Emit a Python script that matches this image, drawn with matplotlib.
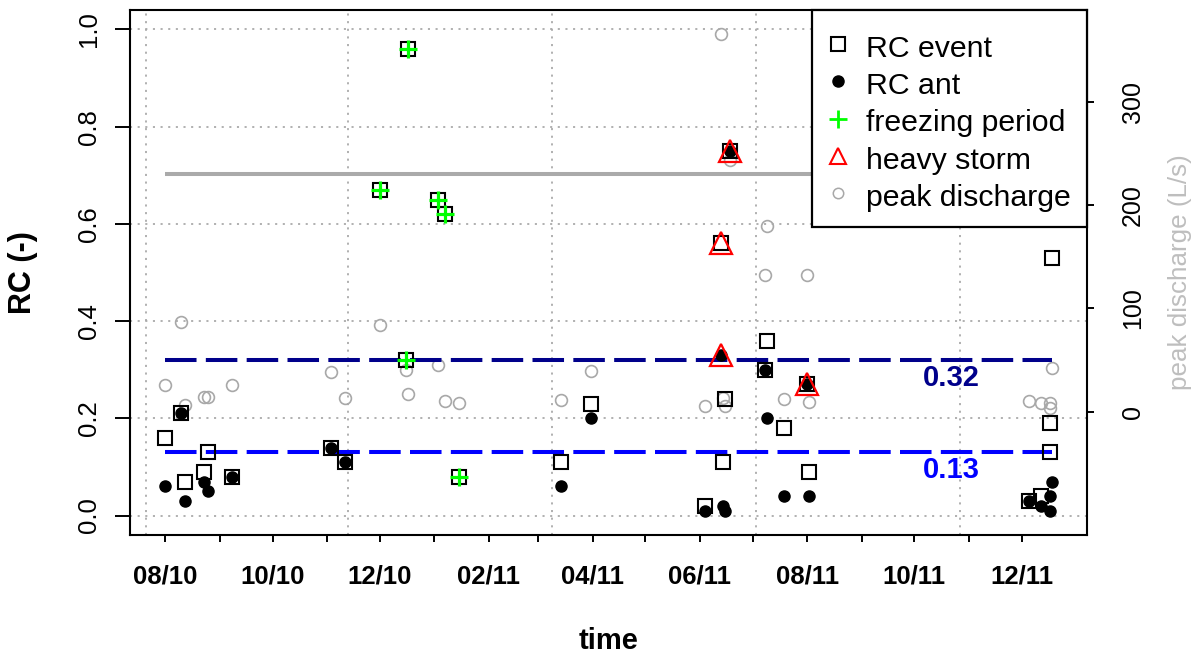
import matplotlib
matplotlib.use('Agg')
import matplotlib.pyplot as plt
from matplotlib.lines import Line2D
from matplotlib.patches import Rectangle
from datetime import datetime

plt.rcParams['font.family'] = ['Liberation Sans', 'DejaVu Sans']
plt.rcParams['lines.scale_dashes'] = False

def d(s):
    return datetime.strptime(s, '%Y-%m-%d')

# ---------------- data ----------------
event_dates = ['2010-08-01', '2010-08-10', '2010-08-12', '2010-08-23', '2010-08-25', '2010-09-08',
               '2010-11-03', '2010-11-11', '2010-12-01', '2010-12-16', '2010-12-17', '2011-01-03',
               '2011-01-07', '2011-01-15', '2011-03-14', '2011-03-31', '2011-06-04', '2011-06-13',
               '2011-06-14', '2011-06-15', '2011-06-18', '2011-07-08', '2011-07-09', '2011-07-19',
               '2011-08-01', '2011-08-02', '2011-12-05', '2011-12-12', '2011-12-17', '2011-12-17',
               '2011-12-18']
rc_event = [0.16, 0.21, 0.07, 0.09, 0.13, 0.08,
            0.14, 0.11, 0.67, 0.32, 0.96, 0.65,
            0.62, 0.08, 0.11, 0.23, 0.02, 0.56,
            0.11, 0.24, 0.75, 0.30, 0.36, 0.18,
            0.27, 0.09, 0.03, 0.04, 0.19, 0.13,
            0.53]

ant_dates = ['2010-08-01', '2010-08-10', '2010-08-12', '2010-08-23', '2010-08-25', '2010-09-08',
             '2010-11-03', '2010-11-11', '2011-03-14', '2011-03-31', '2011-06-04', '2011-06-13',
             '2011-06-14', '2011-06-15', '2011-06-18', '2011-07-08', '2011-07-09', '2011-07-19',
             '2011-08-01', '2011-08-02', '2011-12-05', '2011-12-12', '2011-12-17', '2011-12-17',
             '2011-12-18']
rc_ant = [0.06, 0.21, 0.03, 0.07, 0.05, 0.08,
          0.14, 0.11, 0.06, 0.20, 0.01, 0.33,
          0.02, 0.01, 0.75, 0.30, 0.20, 0.04,
          0.27, 0.04, 0.03, 0.02, 0.04, 0.01,
          0.07]

freeze_dates = ['2010-12-01', '2010-12-16', '2010-12-17', '2011-01-03', '2011-01-07', '2011-01-15']
rc_freeze = [0.67, 0.32, 0.96, 0.65, 0.62, 0.08]

storm_dates = ['2011-06-13', '2011-06-13', '2011-06-18', '2011-08-01']
rc_storm = [0.56, 0.33, 0.75, 0.27]

peak_dates = ['2010-08-01', '2010-08-10', '2010-08-12', '2010-08-23', '2010-08-25', '2010-09-08',
              '2010-11-03', '2010-11-11', '2010-12-01', '2010-12-16', '2010-12-17', '2011-01-03',
              '2011-01-07', '2011-01-15', '2011-03-14', '2011-03-31', '2011-06-04', '2011-06-13',
              '2011-06-14', '2011-06-15', '2011-06-18', '2011-07-08', '2011-07-09', '2011-07-19',
              '2011-08-01', '2011-08-02', '2011-12-05', '2011-12-12', '2011-12-17', '2011-12-17',
              '2011-12-18']
peak_q = [26, 87, 6.5, 14.5, 14, 26,
          38, 13.6, 84, 40, 17, 45,
          10.7, 8.7, 11.3, 39.4, 5.5, 366,
          12.9, 5.5, 243.6, 132, 180, 12.3,
          132, 9.7, 10.4, 8.1, 8.0, 3.9,
          42]

ref_values = [0.32, 0.13]
ref_labels = ['0.32', '0.13']
ref_colors = ['#00008B', '#0000FF']
thresh_rc = 0.703

tick_months = ['2010-08-01', '2010-09-01', '2010-10-01', '2010-11-01', '2010-12-01', '2011-01-01',
               '2011-02-01', '2011-03-01', '2011-04-01', '2011-05-01', '2011-06-01', '2011-07-01',
               '2011-08-01', '2011-09-01', '2011-10-01', '2011-11-01', '2011-12-01']
tick_labels = ['08/10', '', '10/10', '', '12/10', '', '02/11', '', '04/11', '', '06/11', '',
               '08/11', '', '10/11', '', '12/11']
grid_dates = ['2010-07-21', '2010-11-13', '2011-03-09', '2011-07-03', '2011-10-27']
y_ticks = [0.0, 0.2, 0.4, 0.6, 0.8, 1.0]
y2_ticks = [0, 100, 200, 300]

# ---------------- figure ----------------
W, H = 1198, 655
fig = plt.figure(figsize=(W / 100, H / 100), dpi=100)
ax = fig.add_axes([130 / W, 120 / H, 957 / W, 525 / H])
ax2 = ax.twinx()

ev_x = [d(s) for s in event_dates]
an_x = [d(s) for s in ant_dates]
fr_x = [d(s) for s in freeze_dates]
st_x = [d(s) for s in storm_dates]
pk_x = [d(s) for s in peak_dates]

all_x = ev_x + an_x + pk_x
x0, x1 = min(all_x), max(all_x)
span = x1 - x0
ax.set_xlim(x0 - 0.04 * span, x1 + 0.04 * span)
ax.set_ylim(-0.04, 1.04)
ax2.set_ylim(-119.4, 388.9)

gridkw = dict(color='#AAAAAA', lw=1.3, dashes=(1.5, 4.0), zorder=0)
for g in grid_dates:
    ax.axvline(d(g), **gridkw)
for yv in y_ticks:
    ax.axhline(yv, **gridkw)

# threshold line and reference lines
ax.plot([x0, x1], [thresh_rc, thresh_rc], color='#AAAAAA', lw=2.9, solid_capstyle='butt', zorder=1)
for v, lab, c in zip(ref_values, ref_labels, ref_colors):
    ln, = ax.plot([x0, x1], [v, v], color=c, lw=2.9, zorder=2, dash_capstyle='butt')
    ln.set_dashes((22.7, 6.7))
    ax.text(d('2011-10-22'), v - 0.036, lab, color=c, fontsize=21, fontweight='bold',
            ha='center', va='center', zorder=3)

# points
ax2.plot(pk_x, peak_q, ls='none', marker='o', ms=8.5, mfc='none', mec='#A8A8A8', mew=1.2, zorder=3)
ax.plot(ev_x, rc_event, ls='none', marker='s', ms=9.6, mfc='none', mec='black', mew=1.5, zorder=4)
ax.plot(an_x, rc_ant, ls='none', marker='o', ms=8, mfc='black', mec='black', zorder=5)
ax.plot(fr_x, rc_freeze, ls='none', marker='+', ms=13, mec='#00FF00', mew=2.3, zorder=6)
ax.plot(st_x, rc_storm, ls='none', marker='^', ms=16, mfc='none', mec='#FF0000', mew=1.6, zorder=6)
ax.set_zorder(ax2.get_zorder() + 1)
ax.patch.set_visible(False)

# axes styling
ax.set_xticks([d(s) for s in tick_months])
ax.set_xticklabels(tick_labels, fontsize=18.5, fontweight='bold')
ax.set_yticks(y_ticks)
ax.set_yticklabels(['0.0', '0.2', '0.4', '0.6', '0.8', '1.0'], fontsize=18.5, rotation=90, va='center')
ax.tick_params(axis='y', length=10.8, width=1.4, pad=10)
ax.tick_params(axis='x', length=5, width=1.4, pad=16)
ax2.set_yticks(y2_ticks)
ax2.set_yticklabels([str(v) for v in y2_ticks], fontsize=18, rotation=90, va='center')
ax2.tick_params(axis='y', length=5, width=1.4, pad=19.5)
for sp in ax.spines.values():
    sp.set_linewidth(1.5)
for sp in ax2.spines.values():
    sp.set_visible(False)

ax.set_ylabel('RC (-)', fontsize=22, fontweight='bold', va='center')
ax.yaxis.set_label_coords((23 - 130) / 957, 0.5)
ax.set_xlabel('time', fontsize=21, fontweight='bold', va='center')
ax.xaxis.set_label_coords(0.5, (535 - 641) / 525)
ax2.set_ylabel('peak discharge (L/s)', fontsize=18.7, color='#BEBEBE', va='center')
ax2.yaxis.set_label_coords((1180 - 130) / 957, 0.5)

# legend: frame drawn as a rectangle, entries via ax.legend
frame = Rectangle(((811.7 - 130) / 957, (535 - 226.7) / 525), (1087 - 811.7) / 957,
                  (226.7 - 10) / 525, transform=ax.transAxes, facecolor='white',
                  edgecolor='black', lw=1.6, zorder=19, clip_on=False)
ax.add_patch(frame)

handles = [
    Line2D([], [], ls='none', marker='s', ms=9.4, mfc='none', mec='black', mew=1.5),
    Line2D([], [], ls='none', marker='o', ms=8, mfc='black', mec='black'),
    Line2D([], [], ls='none', marker='+', ms=13, mec='#00FF00', mew=2.0),
    Line2D([], [], ls='none', marker='^', ms=12, mfc='none', mec='#FF0000', mew=1.5),
    Line2D([], [], ls='none', marker='o', ms=7.5, mfc='none', mec='#A8A8A8', mew=1.1),
]
labels = ['RC event', 'RC ant', 'freezing period', 'heavy storm', 'peak discharge']
leg = ax.legend(handles, labels, loc='upper left',
                bbox_to_anchor=((827 - 130) / 957, (535 - 31) / 525), borderaxespad=0,
                fontsize=21.8, frameon=False, borderpad=0.0,
                handlelength=0.72, handletextpad=0.56, labelspacing=0.185,
                handleheight=1.2)
leg.set_zorder(20)

fig.savefig('out.png', dpi=100)
